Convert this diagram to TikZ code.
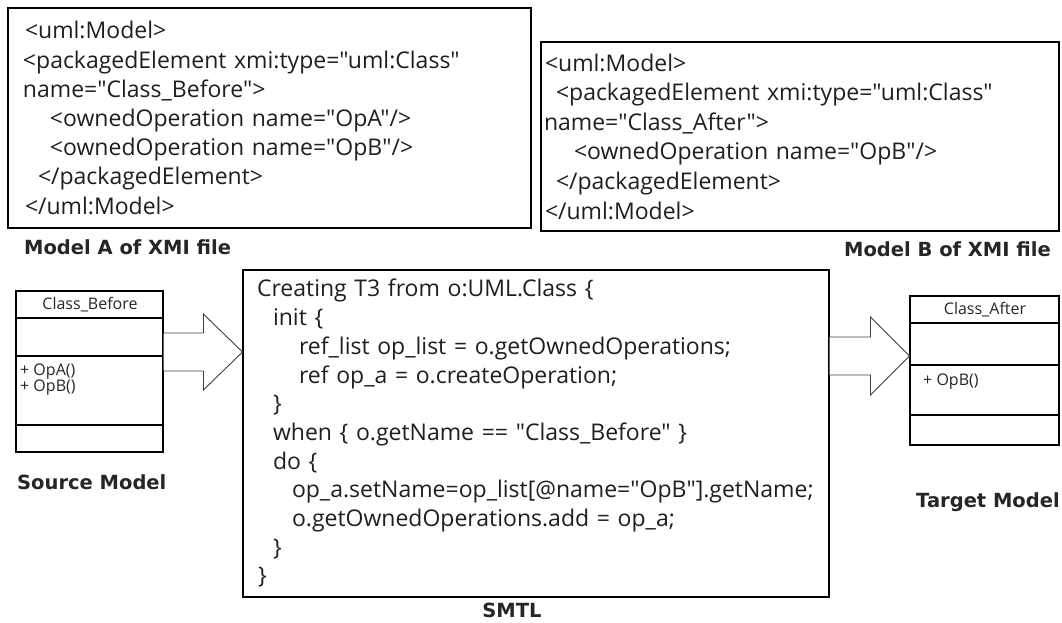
\documentclass[tikz,border=0pt]{standalone}
\usepackage{fontspec}
\setmainfont{Open Sans}
\newfontfamily\codefamily{Open Sans}
\newfontfamily\capfamily{DejaVu Sans}
\usetikzlibrary{calc}
\newcommand\codeA{\codefamily\fontsize{23}{29.2}\selectfont}
\newcommand\codeB{\codefamily\fontsize{23}{29.6}\selectfont}
\newcommand\codeS{\codefamily\fontsize{23}{28.7}\selectfont}
\newcommand\clsfont{\codefamily\fontsize{16}{16}\selectfont}
\newcommand\labfont{\capfamily\bfseries\fontsize{19.5}{21}\selectfont}
\tikzset{
  codebox/.style={draw, line width=1.1pt, align=left, inner ysep=0pt, text=black!88},
  classbox/.style={draw, line width=1.1pt, inner sep=0pt},
  compline/.style={line width=1.1pt},
  clstext/.style={font=\clsfont, inner sep=0pt, text=black!85},
  caption/.style={font=\labfont, inner sep=0pt, text=black!85},
  blockarrow/.style={line width=0.9pt, draw=black!75, fill=white, line join=miter},
}
\begin{document}
\begin{tikzpicture}[x=1pt,y=-1pt]
\fill[white] (0,0) rectangle (1062,623);
\useasboundingbox (0,0) rectangle (1062,623);

% XMI model A
\node[codebox, font=\codeA, minimum height=220pt, text width=493pt, inner xsep=15pt] (boxA) at (269.5,118) {%
\hspace*{2pt}<uml:Model>\\
<packagedElement xmi:type="uml:Class"\\
name="Class\_Before">\\
\hspace*{27pt}<ownedOperation name="OpA"/>\\
\hspace*{27pt}<ownedOperation name="OpB"/>\\
\hspace*{15pt}</packagedElement>\\
\hspace*{2pt}</uml:Model>};
\node[caption, anchor=base west] (labA) at (24,254) {Model A of XMI file};

% XMI model B
\node[codebox, font=\codeB, minimum height=189pt, text width=512pt, inner xsep=3pt] (boxB) at (800,136.5) {%
\hspace*{1pt}<uml:Model>\\
\hspace*{12pt}<packagedElement xmi:type="uml:Class"\\
name="Class\_After">\\
\hspace*{30pt}<ownedOperation name="OpB"/>\\
\hspace*{12pt}</packagedElement>\\
\hspace*{1pt}</uml:Model>};
\node[caption, anchor=base east] (labB) at (1051,256) {Model B of XMI file};

% SMTL
\node[codebox, font=\codeS, minimum height=327pt, text width=558pt, inner xsep=14pt] (smtl) at (536,433.5) {%
Creating T3 from o:UML.Class \{\\
\hspace*{16pt}init \{\\
\hspace*{42pt}ref\_list op\_list = o.getOwnedOperations;\\
\hspace*{42pt}ref op\_a = o.createOperation;\\
\hspace*{16pt}\}\\
\hspace*{16pt}when \{ o.getName == "Class\_Before" \}\\
\hspace*{16pt}do \{\\
\hspace*{35pt}op\_a.setName=op\_list[@name="OpB"].getName;\\
\hspace*{35pt}o.getOwnedOperations.add = op\_a;\\
\hspace*{16pt}\}\\
\hspace*{1pt}\}};
\node[caption, anchor=base] (labS) at (512,617) {SMTL};

% Source class
\node[classbox, minimum width=147pt, minimum height=161pt] (cb) at (89.5,371.5) {};
\draw[compline] (cb.west |- 0,318) -- (cb.east |- 0,318);
\draw[compline] (cb.west |- 0,356) -- (cb.east |- 0,356);
\draw[compline] (cb.west |- 0,425) -- (cb.east |- 0,425);
\node[clstext] (cbname) at (90,305) {Class\_Before};
\node[clstext, anchor=north west, align=left] (cbops) at (20,363.5) {+ OpA()\\+ OpB()};
\node[caption, anchor=base west] (labSrc) at (17,489.5) {Source Model};

% Target class
\node[classbox, minimum width=149pt, minimum height=149pt] (ca) at (984.5,370.5) {};
\draw[compline] (ca.west |- 0,323) -- (ca.east |- 0,323);
\draw[compline] (ca.west |- 0,365) -- (ca.east |- 0,365);
\draw[compline] (ca.west |- 0,415) -- (ca.east |- 0,415);
\node[clstext] (caname) at (985,310) {Class\_After};
\node[clstext, anchor=north west, align=left] (caops) at (923,373.5) {+ OpB()};
\node[caption, anchor=base west] (labTgt) at (916,507.5) {Target Model};

% block arrows
\coordinate (t1) at (cb.east |- 0,352);
\coordinate (h1) at (smtl.west |- 0,352);
\filldraw[blockarrow] ($(t1)+(0,-19)$) -- ($(h1)+(-39,-19)$) -- ($(h1)+(-39,-38)$) -- (h1)
  -- ($(h1)+(-39,38)$) -- ($(h1)+(-39,19)$) -- ($(t1)+(0,19)$);
\coordinate (t2) at (smtl.east |- 0,356);
\coordinate (h2) at (ca.west |- 0,356);
\filldraw[blockarrow] ($(t2)+(0,-19)$) -- ($(h2)+(-39,-19)$) -- ($(h2)+(-39,-39)$) -- (h2)
  -- ($(h2)+(-39,39)$) -- ($(h2)+(-39,19)$) -- ($(t2)+(0,19)$);
\end{tikzpicture}
\end{document}
